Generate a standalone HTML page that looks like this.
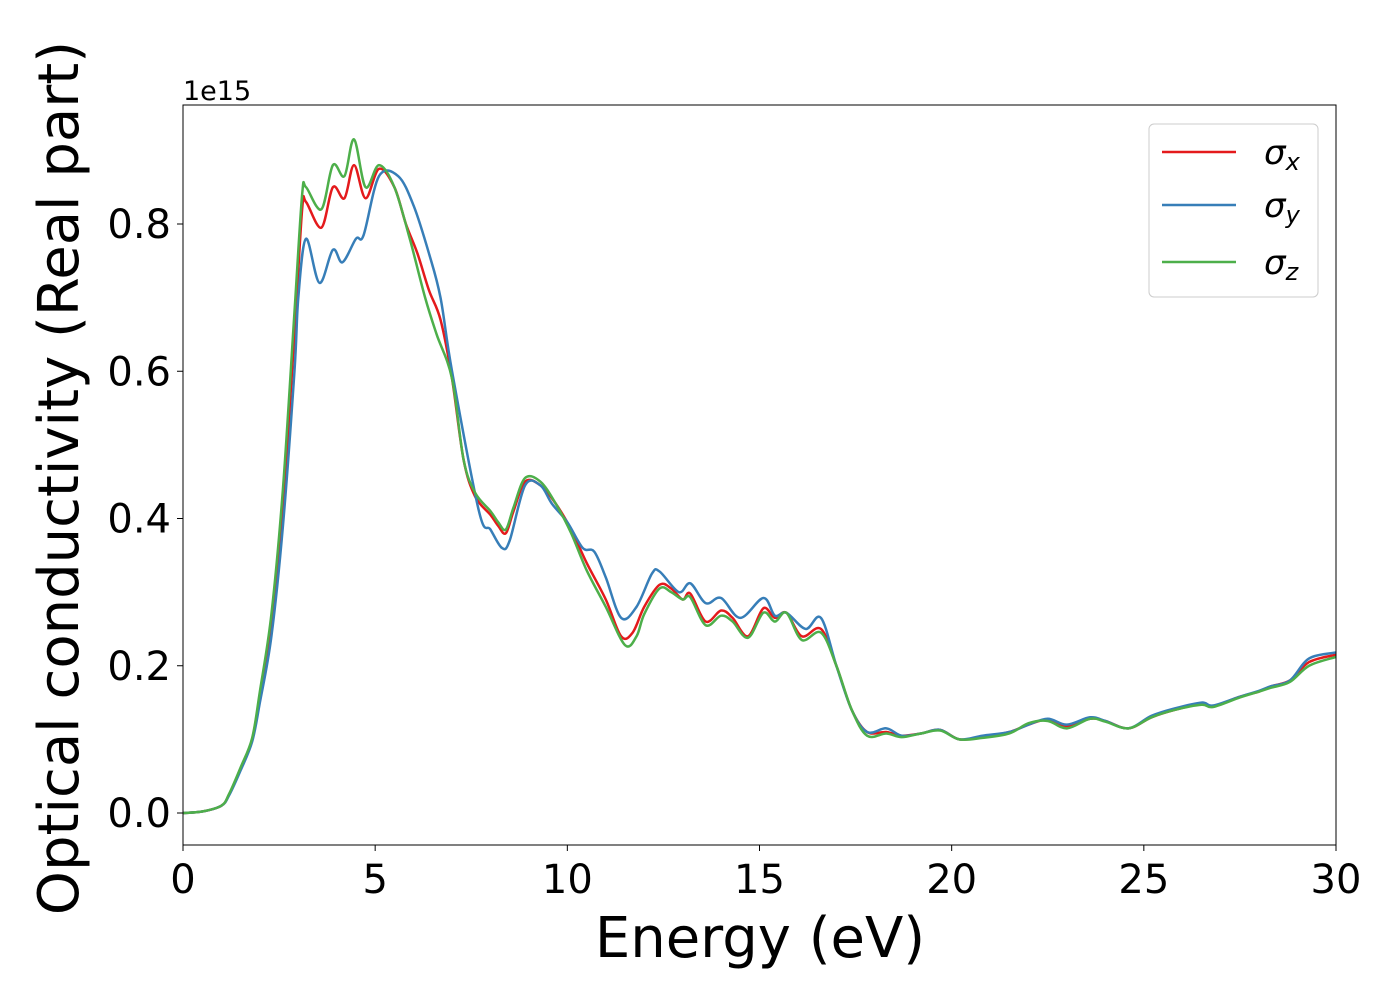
<!DOCTYPE html>
<html><head><meta charset="utf-8"><style>
body{margin:0;background:#fff;}
svg{font-family:"DejaVu Sans","Liberation Sans",sans-serif;}
</style></head><body>
<svg id="chart" width="1400" height="1000"></svg>
<script>
const xR=[0,0.5,1.0,1.2,1.5,1.8,2.0,2.3,2.6,2.9,3.1,3.2,3.6,3.9,4.2,4.45,4.75,5.1,5.5,5.8,6.1,6.4,6.7,7.0,7.3,7.6,8.0,8.2,8.4,8.6,8.9,9.3,9.7,10.1,10.5,11.0,11.4,11.7,12.0,12.4,12.7,13.0,13.2,13.6,14.0,14.3,14.7,15.1,15.4,15.7,16.1,16.6,17.0,17.4,17.8,18.3,18.7,19.2,19.7,20.2,20.8,21.5,22.0,22.5,23.0,23.6,24.0,24.6,25.2,25.8,26.5,26.8,27.5,28.0,28.3,28.8,29.3,30];
const yR=[0,0.002,0.01,0.025,0.06,0.1,0.16,0.26,0.42,0.65,0.82,0.83,0.795,0.85,0.835,0.88,0.835,0.875,0.85,0.80,0.76,0.71,0.67,0.59,0.48,0.43,0.405,0.39,0.38,0.41,0.45,0.445,0.42,0.385,0.34,0.29,0.24,0.245,0.28,0.31,0.305,0.29,0.298,0.26,0.275,0.265,0.24,0.278,0.265,0.272,0.24,0.25,0.2,0.14,0.11,0.11,0.105,0.108,0.113,0.1,0.103,0.11,0.12,0.127,0.118,0.128,0.125,0.115,0.13,0.14,0.148,0.145,0.158,0.165,0.172,0.18,0.205,0.215];
const xB=[0,0.5,1.0,1.2,1.5,1.8,2.0,2.3,2.6,2.9,3.0,3.2,3.55,3.9,4.15,4.5,4.7,5.1,5.6,6.0,6.4,6.7,7.0,7.7,8.0,8.3,8.5,8.9,9.3,9.6,10.0,10.4,10.7,11.0,11.4,11.8,12.2,12.4,12.9,13.2,13.6,14.0,14.5,15.1,15.4,15.7,16.2,16.6,17.0,17.4,17.8,18.3,18.7,19.2,19.7,20.2,20.8,21.5,22.0,22.5,23.0,23.6,24.0,24.6,25.2,25.8,26.5,26.8,27.5,28.0,28.3,28.8,29.3,30];
const yB=[0,0.002,0.01,0.024,0.058,0.097,0.15,0.24,0.39,0.6,0.7,0.78,0.72,0.765,0.748,0.78,0.785,0.865,0.865,0.825,0.76,0.70,0.6,0.41,0.385,0.36,0.37,0.445,0.445,0.42,0.395,0.36,0.355,0.32,0.265,0.28,0.325,0.328,0.30,0.312,0.285,0.292,0.265,0.292,0.268,0.272,0.25,0.265,0.2,0.14,0.11,0.115,0.105,0.108,0.113,0.1,0.105,0.11,0.12,0.128,0.12,0.13,0.125,0.115,0.132,0.142,0.15,0.146,0.158,0.166,0.172,0.18,0.21,0.218];
const xG=[0,0.5,1.0,1.2,1.5,1.8,2.0,2.3,2.6,2.9,3.1,3.2,3.6,3.9,4.2,4.45,4.75,5.1,5.5,5.9,6.3,6.6,7.0,7.3,7.6,8.0,8.2,8.4,8.6,8.9,9.3,9.7,10.1,10.5,11.0,11.5,11.8,12.0,12.4,12.7,13.0,13.2,13.6,14.0,14.3,14.7,15.1,15.4,15.7,16.1,16.6,17.0,17.4,17.8,18.3,18.7,19.2,19.7,20.2,20.8,21.5,22.0,22.5,23.0,23.6,24.0,24.6,25.2,25.8,26.5,26.8,27.5,28.0,28.3,28.8,29.3,30];
const yG=[0,0.002,0.01,0.026,0.062,0.102,0.165,0.27,0.44,0.68,0.84,0.85,0.82,0.88,0.865,0.915,0.85,0.88,0.85,0.78,0.70,0.65,0.59,0.48,0.435,0.41,0.395,0.385,0.415,0.455,0.45,0.42,0.38,0.33,0.28,0.228,0.24,0.27,0.305,0.3,0.29,0.293,0.255,0.268,0.26,0.238,0.272,0.26,0.272,0.235,0.245,0.2,0.14,0.105,0.108,0.103,0.108,0.112,0.1,0.102,0.108,0.122,0.125,0.115,0.128,0.124,0.115,0.13,0.14,0.147,0.144,0.157,0.165,0.17,0.178,0.2,0.212];
const xTicks=[0,5,10,15,20,25,30];
const yTicks=[0,0.2,0.4,0.6,0.8];

const NS="http://www.w3.org/2000/svg";
const svg=document.getElementById('chart');
const L=183,R=1336,T=105,B=845;
const sx=v=>L+(v/30)*(R-L);
const sy=v=>813-v*(589/0.8);
function mk(tag,attrs,parent){const e=document.createElementNS(NS,tag);for(const k in attrs)e.setAttribute(k,attrs[k]);(parent||svg).appendChild(e);return e;}
function path(xs,ys){const p=xs.map((x,i)=>[sx(x),sy(ys[i])]);let d=`M${p[0][0]},${p[0][1]}`;
 for(let i=0;i<p.length-1;i++){const p0=p[Math.max(0,i-1)],p1=p[i],p2=p[i+1],p3=p[Math.min(p.length-1,i+2)];
 const c1=[p1[0]+(p2[0]-p0[0])/6,p1[1]+(p2[1]-p0[1])/6],c2=[p2[0]-(p3[0]-p1[0])/6,p2[1]-(p3[1]-p1[1])/6];
 d+=`C${c1[0]},${c1[1]} ${c2[0]},${c2[1]} ${p2[0]},${p2[1]}`;}return d;}
const clip=mk('clipPath',{id:'clip'});mk('rect',{x:L,y:T,width:R-L,height:B-T},clip);
const g=mk('g',{'clip-path':'url(#clip)'});
const series=[[xR,yR,'#e41a1c','series-sigma-x'],[xB,yB,'#377eb8','series-sigma-y'],[xG,yG,'#4daf4a','series-sigma-z']];
series.forEach(s=>{const e=mk('path',{d:path(s[0],s[1]),fill:'none',stroke:s[2],'stroke-width':2.5},g);

});
const frame=mk('rect',{x:L,y:T,width:R-L,height:B-T,fill:'none',stroke:'#000','stroke-width':1});


xTicks.forEach(v=>{mk('line',{x1:sx(v),x2:sx(v),y1:B,y2:B+6,stroke:'#000'});
const t=mk('text',{x:sx(v),y:B+48,'text-anchor':'middle','font-size':40});t.textContent=v;

});
yTicks.forEach(v=>{mk('line',{x1:L-6,x2:L,y1:sy(v),y2:sy(v),stroke:'#000'});
const t=mk('text',{x:L-12,y:sy(v)+14,'text-anchor':'end','font-size':40});t.textContent=v.toFixed(1);

});
</script>
<svg style="position:absolute;left:0;top:0" width="1400" height="1000">
<text x="183" y="100" font-size="27">1e15</text>
<text x="760" y="957" text-anchor="middle" font-size="56">Energy (eV)</text>
<text transform="translate(78,478) rotate(-90)" text-anchor="middle" font-size="56">Optical conductivity (Real part)</text>
<g>
<rect x="1149" y="124" width="169" height="173" rx="5" fill="#fff" fill-opacity="0.8" stroke="#ccc"/>
<line x1="1162" x2="1236" y1="152" y2="152" stroke="#e41a1c" stroke-width="2.5"/>
<text x="1264" y="164" font-size="34" font-style="italic">σ<tspan font-size="24" dy="6">x</tspan></text>
<line x1="1162" x2="1236" y1="205" y2="205" stroke="#377eb8" stroke-width="2.5"/>
<text x="1264" y="217" font-size="34" font-style="italic">σ<tspan font-size="24" dy="6">y</tspan></text>
<line x1="1162" x2="1236" y1="262" y2="262" stroke="#4daf4a" stroke-width="2.5"/>
<text x="1264" y="274" font-size="34" font-style="italic">σ<tspan font-size="24" dy="6">z</tspan></text>
</g>
</svg>
<style>body{position:relative}</style>
</body></html>
